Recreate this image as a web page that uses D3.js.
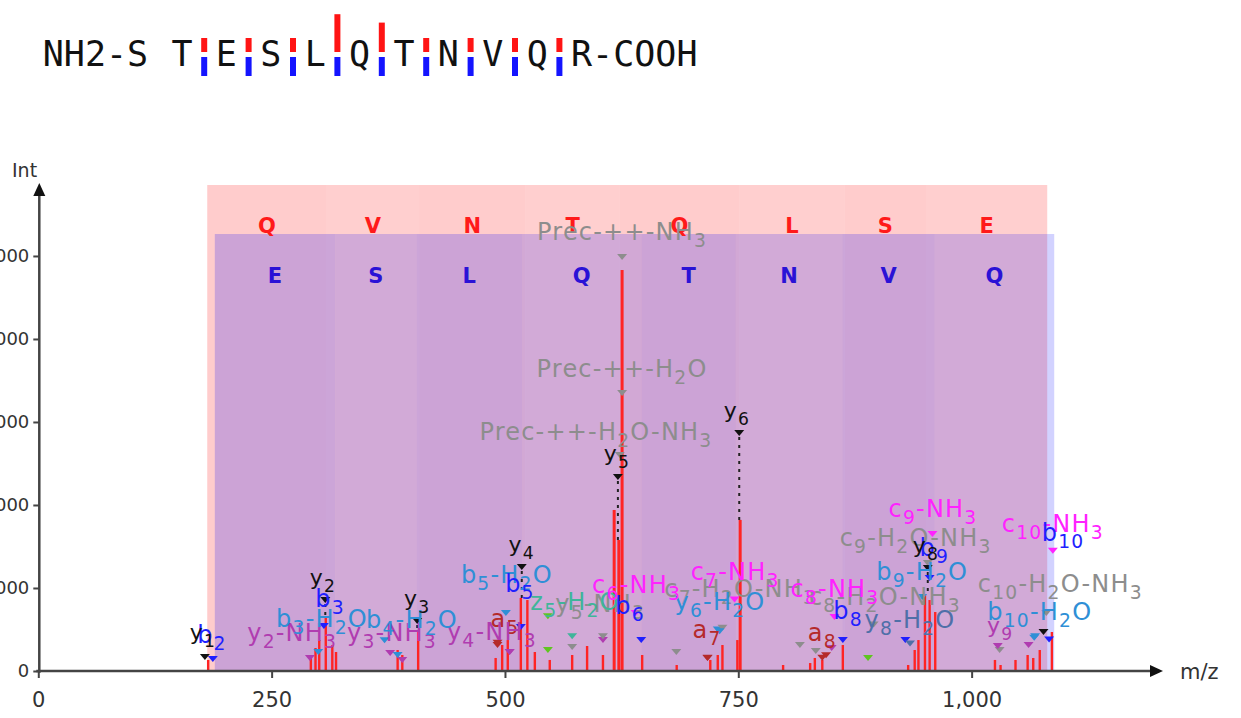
<!DOCTYPE html>
<html><head><meta charset="utf-8">
<script src="https://cdn.jsdelivr.net/npm/d3@7"></script>
<style>body{margin:0;background:#fff}svg{display:block}</style>
</head><body><svg id="c" width="1241" height="718"></svg>
<script>
// ---------------- data ----------------
const residues = ["S","T","E","S","L","Q","T","N","V","Q","R"];
const yBarHeights = [1,1,1,2.7,2.1,1,1,1,1];   // red (y-ion) markers between residues 1..9
const bBarHeights = [1,1,1,1,1,1,1,1,1];       // blue (b-ion) markers
const yIonMz = [181,309,408,522,623,751,864,951,1081];
const yIonRes = ["Q","V","N","T","Q","L","S","E"];
const bIonMz = [189.1,318.1,405.2,518.3,646.3,747.4,861.4,960.5,1088.5];
const bIonRes = ["E","S","L","Q","T","N","V","Q"];
const xTicks = [0,250,500,750,1000];
const yTicks = [0,1000,2000,3000,4000,5000];

const peakMz  = [182,292,297,301,308,315,319,385,390,407,490,497,503,517,524,532,548,572,588,605,617,622,625.5,647,684,720,728,733,749,752,798,827,832,840,862,932,939,943,950,955,961,1025,1031,1047,1060,1066,1073,1086];
const peakInt = [133,193,277,373,639,313,229,253,193,494,157,313,373,880,855,229,133,193,301,193,1940,1578,4831,193,72,133,193,313,373,1820,72,96,157,133,313,72,253,373,916,855,711,133,72,133,193,157,253,470];

// annotations: [label, marker m/z, marker int, label m/z, label int, colour, peak int for dotted link]
const annotations = [
  ["Prec-++-NH_3",      625.5,4988, 625.5,5193,"#8d8d8d",0],
  ["Prec-++-H_2O",      625.5,3349, 625.5,3542,"#8d8d8d",0],
  ["Prec-++-H_2O-NH_3", 623,2602,   597.5,2783,"#8d8d8d",0],
  ["c_9-H_2O-NH_3",     953,1300,   940,1506,"#8d8d8d",0],
  ["c_10-H_2O-NH_3",    1080,700,   1095,952,"#8d8d8d",0],
  ["c_7-H_2O-NH_3",     733,520,    752,892,"#8d8d8d",0],
  ["c_8-H_2O-NH_3",     895,560,    907,795,"#8d8d8d",0],
  ["y_5-NH_3",          605,420,    602,711,"#8d8d8d",0],
  ["y_8-H_2O",          934,330,    934,518,"#4f6fa8",0],
  ["z_5-H_2O",          572,420,    575,735,"#3fb59a",0],
  ["a_5",               492,340,    500,530,"#b52a2a",0],
  ["a_7",               717,160,    716.5,398,"#b52a2a",0],
  ["a_8",               840,160,    840,361,"#b52a2a",0],
  ["y_2-NH_3",          291,157,    272,361,"#b03cb0",0],
  ["y_3-NH_3",          390,133,    379,361,"#b03cb0",0],
  ["y_4-NH_3",          505,229,    486,373,"#b03cb0",0],
  ["y_9",               1028,300,   1030.5,458,"#b03cb0",0],
  ["b_3-H_2O",          300,229,    304,530,"#2f8fd6",0],
  ["b_4-H_2O",          385,193,    400.4,518,"#2f8fd6",0],
  ["b_5-H_2O",          501,699,    502,1060,"#2f8fd6",0],
  ["y_6-H_2O",          730,480,    730.4,735,"#2f8fd6",0],
  ["b_9-H_2O",          947,890,    947,1096,"#2f8fd6",0],
  ["b_10-H_2O",         1067,400,   1073,614,"#2f8fd6",0],
  ["c_6-NH_3",          640,700,    641,940,"#ff22ff",0],
  ["c_7-NH_3",          746,860,    746.6,1096,"#ff22ff",0],
  ["c_8-NH_3",          853,650,    853.6,892,"#ff22ff",0],
  ["c_9-NH_3",          958,1650,   958.6,1855,"#ff22ff",0],
  ["c_10-NH_3",         1087,1450,  1087,1675,"#ff22ff",0],
  ["b_2",               187,145,    186,337,"#1f1fff",0],
  ["b_3",               306,542,    312.5,771,"#1f1fff",0],
  ["b_5",               517,530,    516,952,"#1f1fff",0],
  ["b_6",               646,373,    634,687,"#1f1fff",0],
  ["b_8",               862,373,    867.5,627,"#1f1fff",0],
  ["b_9",               955,1120,   960,1386,"#1f1fff",0],
  ["b_10",              1083,380,   1098,1566,"#1f1fff",0],
  ["y_1",               178.5,169,  176.5,373,"#111111",0],
  ["y_2",               307.5,855,  305,1036,"#111111",639],
  ["y_3",               406,602,    406,783,"#111111",494],
  ["y_4",               518,1253,   518,1434,"#111111",880],
  ["y_5",               621,2337,   620,2530,"#111111",1578],
  ["y_6",               751,2867,   748.6,3048,"#111111",1820],
  ["y_8",               953,1241,   951,1422,"#111111",916]
];

// loose fragment markers without readable labels: [m/z, int, colour]
const extraMarkers = [
  [377,217,"#b03cb0"],[371,370,"#2f8fd6"],[492,313,"#b52a2a"],[505,229,"#b03cb0"],
  [546,253,"#5fc520"],[546,660,"#5fc520"],[572,289,"#8d8d8d"],[605,373,"#b03cb0"],
  [683.6,229,"#8d8d8d"],[717,157,"#b52a2a"],[728,500,"#2f8fd6"],[816,313,"#8d8d8d"],
  [833,240,"#8d8d8d"],[844,190,"#b52a2a"],[850,277,"#b03cb0"],[889,157,"#5fc520"],
  [929,373,"#1f1fff"],[1030,253,"#8d8d8d"],[1061,313,"#b03cb0"],[1068,420,"#2f8fd6"],[1077,470,"#111111"]
];

// ---------------- drawing ----------------
const svg = d3.select("#c");
const x = d3.scaleLinear().domain([0,1200]).range([38.3,1158.3]);
const y = d3.scaleLinear().domain([0,5855]).range([671,185]);
const FONT = "DejaVu Sans, Verdana, sans-serif";

function rich(g, str, px, py, size, color, anchor) {
  const t = g.append("text").attr("x",px).attr("y",py)
    .attr("text-anchor",anchor||"middle").attr("fill",color)
    .style("font-family",FONT).style("font-size",size+"px").style("letter-spacing","1.2px");
  const parts = str.split(/_(\d+)/);
  let shifted = false;
  parts.forEach((p,i)=>{
    if (i%2===1) {
      t.append("tspan").attr("dy",size*0.3).style("font-size",(size*0.78)+"px").text(p);
      shifted = true;
    } else if (p) {
      const ts = t.append("tspan").text(p);
      if (shifted) { ts.attr("dy",-size*0.3); shifted=false; }
    }
  });
  return t;
}

// ---- sequence header ----
const seqX = d3.scaleLinear().domain([0,10]).range([137.6,581.6]);
const head = svg.append("g").style("font-family","DejaVu Sans Mono, monospace").style("font-size","35px").attr("fill","#111");
head.append("text").attr("x",seqX(0)-10.5).attr("y",66).attr("text-anchor","end").text("NH2-");
residues.forEach((r,i)=>head.append("text").attr("x",seqX(i)).attr("y",66).attr("text-anchor","middle").text(r));
head.append("text").attr("x",seqX(10)+10.5).attr("y",66).text("-COOH");
yBarHeights.forEach((h,k)=>{
  const cx = seqX(k+1.5);
  svg.append("rect").attr("x",cx-3).attr("width",6).attr("y",52-14*h).attr("height",14*h).attr("fill","#ff1414");
});
bBarHeights.forEach((h,k)=>{
  const cx = seqX(k+1.5);
  svg.append("rect").attr("x",cx-3).attr("width",6).attr("y",57).attr("height",19*h).attr("fill","#1414ff");
});

// ---- ion ladders (bands) ----
const bandTopY = 185, bandTopB = 234;
for (let j=0;j<yIonMz.length-1;j++){
  svg.append("rect").attr("x",x(yIonMz[j])).attr("width",x(yIonMz[j+1])-x(yIonMz[j]))
    .attr("y",bandTopY).attr("height",y(0)-bandTopY)
    .attr("fill","#ff0000").attr("fill-opacity", j%2===0 ? 0.2 : 0.19);
}
for (let j=0;j<bIonMz.length-1;j++){
  svg.append("rect").attr("x",x(bIonMz[j])).attr("width",x(bIonMz[j+1])-x(bIonMz[j]))
    .attr("y",bandTopB).attr("height",y(0)-bandTopB)
    .attr("fill","#0000ff").attr("fill-opacity", j%2===0 ? 0.2 : 0.175);
}
yIonRes.forEach((r,j)=>{
  svg.append("text").attr("x",(x(yIonMz[j])+x(yIonMz[j+1]))/2).attr("y",233)
    .attr("text-anchor","middle").attr("fill","#ff1a1a").style("font-family",FONT)
    .style("font-weight","bold").style("font-size","21px").text(r);
});
bIonRes.forEach((r,j)=>{
  svg.append("text").attr("x",(x(bIonMz[j])+x(bIonMz[j+1]))/2).attr("y",283)
    .attr("text-anchor","middle").attr("fill","#2a12d6").style("font-family",FONT)
    .style("font-weight","bold").style("font-size","21px").text(r);
});

// ---- peaks ----
svg.append("g").selectAll("line").data(peakMz).join("line")
  .attr("x1",d=>x(d)).attr("x2",d=>x(d))
  .attr("y1",y(0)).attr("y2",(d,i)=>y(peakInt[i]))
  .attr("stroke","#ff2424").attr("stroke-width",(d,i)=>peakInt[i]>1500?3:2.4);

// ---- dotted links ----
annotations.filter(a=>a[6]>0).forEach(a=>{
  svg.append("line").attr("x1",x(a[1])).attr("x2",x(a[1]))
    .attr("y1",y(a[2])+4).attr("y2",y(a[6]))
    .attr("stroke","#222").attr("stroke-width",2).attr("stroke-dasharray","3,5");
});

// ---- markers ----
const tri = "M-5,-3L5,-3L0,3Z";
extraMarkers.forEach(m=>{
  svg.append("path").attr("d",tri).attr("transform",`translate(${x(m[0])},${y(m[1])})`).attr("fill",m[2]);
});
annotations.forEach(a=>{
  svg.append("path").attr("d",tri).attr("transform",`translate(${x(a[1])},${y(a[2])})`).attr("fill",a[5]);
});

// ---- labels ----
const lab = svg.append("g");
annotations.forEach(a=>{
  const size = a[0].startsWith("y_") && a[0].length<=4 ? 22 : 24;
  rich(lab, a[0], x(a[3]), y(a[4]), size, a[5], "middle");
});

// ---- axes ----
const axColor = "#444";
const gx = svg.append("g").attr("transform",`translate(0,${y(0)})`)
  .call(d3.axisBottom(x).tickValues(xTicks).tickFormat(d3.format(",")).tickSize(7).tickPadding(14));
gx.select(".domain").remove();
gx.selectAll("line").attr("stroke",axColor).attr("stroke-width",2);
gx.selectAll("text").attr("fill","#333").style("font-family",FONT).style("font-size","21px");

const gy = svg.append("g").attr("transform",`translate(${x(0)+1},0)`)
  .call(d3.axisLeft(y).tickValues(yTicks).tickFormat(d3.format(",")).tickSize(6).tickPadding(4));
gy.select(".domain").remove();
gy.selectAll("line").attr("stroke",axColor).attr("stroke-width",2);
gy.selectAll("text").attr("fill","#333").style("font-family",FONT).style("font-size","18px");

svg.append("line").attr("x1",x(0)-2).attr("x2",1150).attr("y1",y(0)).attr("y2",y(0)).attr("stroke",axColor).attr("stroke-width",2.5);
svg.append("path").attr("d",`M1150,${y(0)-6}L1163,${y(0)}L1150,${y(0)+6}Z`).attr("fill","#111");
svg.append("line").attr("x1",x(0)+1).attr("x2",x(0)+1).attr("y1",y(0)+2).attr("y2",195).attr("stroke",axColor).attr("stroke-width",2.5);
svg.append("path").attr("d",`M${x(0)+1-6},196L${x(0)+1},183L${x(0)+1+6},196Z`).attr("fill","#111");
svg.append("text").attr("x",1180).attr("y",679).attr("fill","#333").style("font-family",FONT).style("font-size","21px").text("m/z");
svg.append("text").attr("x",12).attr("y",177).attr("fill","#333").style("font-family",FONT).style("font-size","19px").text("Int");
</script></body></html>
